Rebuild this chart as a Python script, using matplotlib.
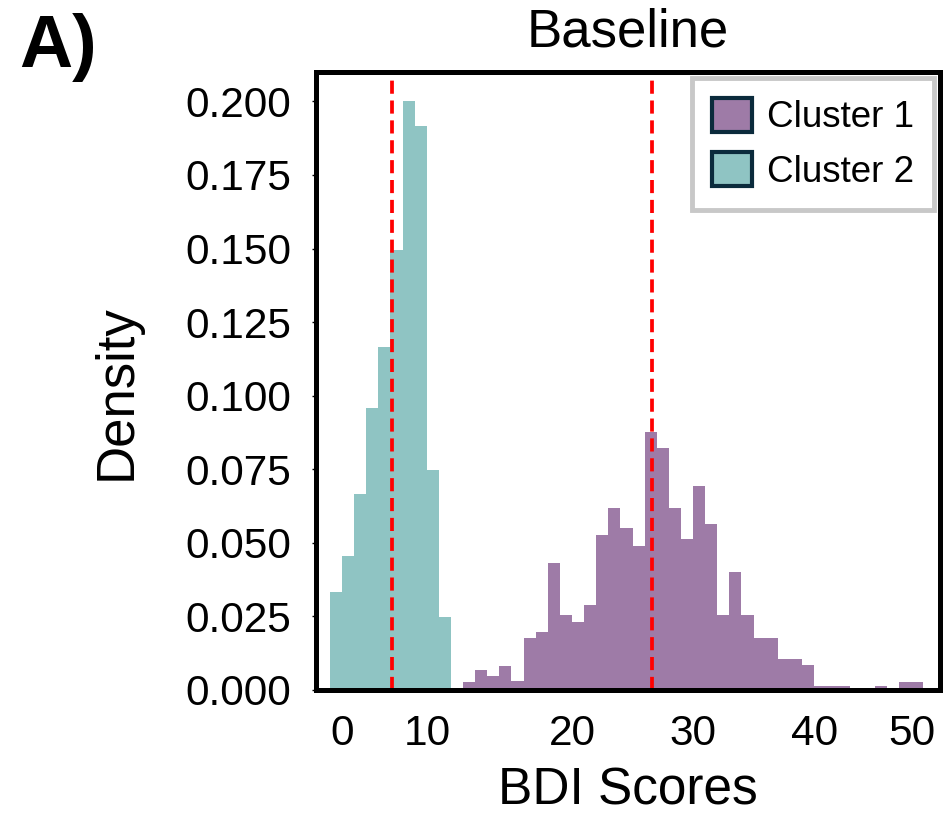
import numpy as np
import matplotlib
matplotlib.use("Agg")
import matplotlib.pyplot as plt
from matplotlib.patches import Patch

plt.rcParams['font.family'] = ['Liberation Sans', 'DejaVu Sans']

# histogram densities, bin width 1 BDI point
cluster2_start = 0
cluster2_density = [0.0332, 0.0456, 0.0666, 0.0959, 0.1167, 0.1496, 0.2000, 0.1918, 0.0749, 0.0249]

cluster1_start = 11
cluster1_density = [0.0028, 0.0068, 0.0046, 0.0083, 0.0031, 0.0176, 0.0196, 0.0433, 0.0254, 0.0231,
                    0.0288, 0.0527, 0.0620, 0.0549, 0.0490, 0.0877, 0.0822, 0.0620, 0.0512, 0.0694,
                    0.0564, 0.0256, 0.0401, 0.0254, 0.0176, 0.0176, 0.0105, 0.0105, 0.0085, 0.0014,
                    0.0014, 0.0014, 0.0, 0.0, 0.0014, 0.0, 0.0028, 0.0028]

cluster_means = [5.1, 26.6]
labels = ['Cluster 1', 'Cluster 2']
colors = ['#9e7ba7', '#8fc4c3']
xticks = [0, 10, 20, 30, 40, 50]

fig = plt.figure(figsize=(9.51, 8.18), dpi=100)
ax = fig.add_axes([0.3323, 0.1565, 0.6561, 0.7555])

x1 = cluster1_start + np.arange(len(cluster1_density))
x2 = cluster2_start + np.arange(len(cluster2_density))
ax.bar(x1, cluster1_density, width=1, align='edge', color=colors[0], linewidth=0)
ax.bar(x2, cluster2_density, width=1, align='edge', color=colors[1], linewidth=0)

for m in cluster_means:
    ax.axvline(m, color='#ff0000', linestyle=(0, (3.5, 1.8)), linewidth=2.7)

ax.set_xlim(-1.15, 50.4)
ax.set_ylim(0, 0.21)
ax.set_xticks(xticks)
ax.set_yticks(np.arange(0, 0.201, 0.025))
ax.yaxis.set_major_formatter(matplotlib.ticker.FormatStrFormatter('%.3f'))

for s in ax.spines.values():
    s.set_linewidth(3.6)
ax.tick_params(axis='x', length=0, pad=17, labelsize=30.5)
ax.tick_params(axis='y', length=3, width=1, pad=15, labelsize=30.5)
# edge labels sit inside the frame like in the figure
for lab, ha in zip(ax.get_xticklabels(), ['left', 'right', 'center', 'center', 'center', 'right']):
    lab.set_horizontalalignment(ha)

ax.set_xlabel('BDI Scores', fontsize=37, labelpad=9)
ax.set_ylabel('Density', fontsize=38)
ax.yaxis.set_label_coords(-0.279, 0.482)
ax.set_title('Baseline', fontsize=38, pad=18)

handles = [Patch(facecolor=c, edgecolor='#0b2b3c', linewidth=3) for c in colors]
leg = ax.legend(handles, labels, loc='upper right', fontsize=26.5, fancybox=False,
                framealpha=1, edgecolor='#c8c8c8', handlelength=1.1, handleheight=1.05,
                handletextpad=0.4, labelspacing=0.45, borderpad=0.55, borderaxespad=0.15)
leg.get_frame().set_linewidth(3.5)

fig.text(0.02, 0.918, 'A)', fontsize=53, fontweight='bold')

fig.savefig('out.png', dpi=100)
